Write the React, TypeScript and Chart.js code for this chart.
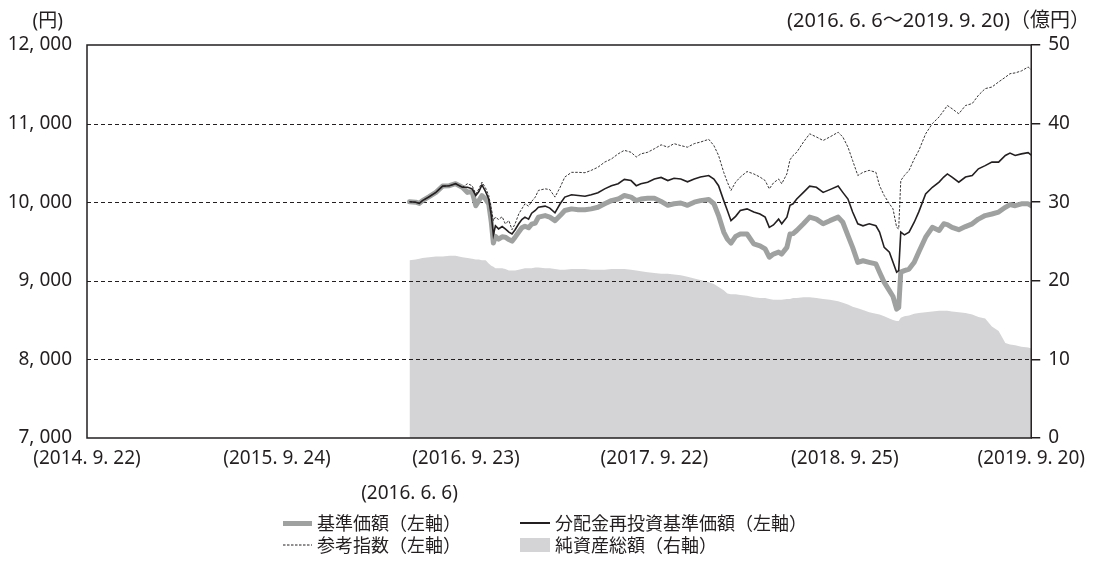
import React, { useEffect, useRef } from 'react';
import { Chart, registerables } from 'chart.js';

Chart.register(...registerables);

// Days counted from 2014.9.22 (first x tick)
const days = [
  623, 635, 642, 648, 661, 674, 687, 700, 712, 725,
  735, 744, 751, 757, 763, 770, 776, 781, 785, 789,
  795, 802, 808, 815, 821, 827, 834, 840, 846, 853,
  859, 866, 872, 885, 894, 904, 914, 923, 936, 949,
  962, 974, 987, 1000, 1013, 1026, 1038, 1051, 1061, 1070,
  1083, 1096, 1109, 1122, 1134, 1147, 1160, 1173, 1185, 1201,
  1211, 1220, 1230, 1237, 1244, 1253, 1262, 1275, 1288, 1300,
  1310, 1318, 1326, 1336, 1342, 1352, 1358, 1364, 1371, 1384,
  1396, 1409, 1422, 1435, 1451, 1460, 1470, 1479, 1489, 1499,
  1511, 1524, 1531, 1540, 1550, 1557, 1564, 1568, 1572, 1579,
  1588, 1598, 1607, 1620, 1633, 1646, 1655, 1662, 1671, 1684,
  1697, 1710, 1722, 1735, 1748, 1761, 1774, 1783, 1793, 1805,
  1818, 1824,
];

// 基準価額 (円)
const basePrice = [
  10005, 10000, 9985, 10020, 10070, 10125, 10205, 10210, 10235, 10190,
  10125, 10135, 9955, 10020, 10085, 10040, 9980, 9745, 9480, 9565,
  9530, 9560, 9555, 9525, 9505, 9555, 9620, 9675, 9695, 9675,
  9720, 9735, 9810, 9830, 9810, 9765, 9830, 9895, 9915, 9905,
  9905, 9915, 9935, 9980, 10020, 10040, 10085, 10065, 10020, 10040,
  10050, 10050, 10010, 9960, 9980, 9990, 9960, 10000, 10020, 10035,
  9980, 9830, 9620, 9530, 9480, 9565, 9595, 9595, 9470, 9445,
  9405, 9300, 9340, 9365, 9340, 9425, 9595, 9600, 9640, 9725,
  9810, 9785, 9725, 9765, 9810, 9745, 9575, 9425, 9235, 9255,
  9235, 9215, 9110, 8980, 8875, 8800, 8640, 8660, 9110, 9130,
  9150, 9235, 9370, 9555, 9680, 9640, 9725, 9715, 9680, 9650,
  9690, 9725, 9785, 9830, 9850, 9875, 9935, 9970, 9955, 9980,
  9980, 9955,
];

// 分配金再投資基準価額 (円)
const reinvestPrice = [
  10005, 10000, 9985, 10020, 10070, 10125, 10205, 10210, 10235, 10190,
  10190, 10170, 10085, 10135, 10220, 10135, 10040, 9830, 9585, 9700,
  9660, 9690, 9660, 9620, 9595, 9650, 9725, 9780, 9810, 9785,
  9860, 9895, 9935, 9950, 9925, 9865, 9980, 10065, 10095, 10085,
  10075, 10095, 10120, 10170, 10210, 10235, 10290, 10275, 10210, 10235,
  10255, 10295, 10315, 10275, 10305, 10295, 10260, 10295, 10320, 10340,
  10295, 10210, 10020, 9895, 9765, 9820, 9895, 9915, 9875, 9850,
  9810, 9680, 9710, 9785, 9725, 9810, 9960, 9980, 10040, 10125,
  10205, 10190, 10125, 10160, 10205, 10125, 10040, 9875, 9725, 9700,
  9725, 9700, 9620, 9425, 9365, 9235, 9110, 9130, 9620, 9585,
  9620, 9745, 9880, 10105, 10190, 10255, 10320, 10360, 10320, 10255,
  10320, 10340, 10425, 10465, 10510, 10510, 10595, 10625, 10595, 10615,
  10630, 10600,
];

// 参考指数 (円)
const refIndex = [
  10005, 10000, 9985, 10020, 10070, 10125, 10205, 10210, 10235, 10190,
  10235, 10210, 10105, 10170, 10255, 10180, 10085, 9915, 9765, 9810,
  9780, 9815, 9725, 9765, 9650, 9725, 9850, 9915, 9980, 9950,
  10010, 10065, 10150, 10170, 10160, 10065, 10190, 10320, 10380, 10380,
  10375, 10405, 10445, 10510, 10550, 10615, 10660, 10635, 10575, 10615,
  10635, 10680, 10730, 10700, 10745, 10720, 10700, 10745, 10765, 10800,
  10720, 10595, 10380, 10255, 10150, 10255, 10320, 10390, 10360, 10320,
  10275, 10170, 10245, 10295, 10235, 10360, 10540, 10595, 10635, 10765,
  10870, 10830, 10785, 10830, 10890, 10830, 10700, 10530, 10340, 10380,
  10405, 10380, 10210, 10085, 9980, 9915, 9680, 9660, 10275, 10340,
  10405, 10550, 10660, 10870, 11000, 11085, 11165, 11230, 11190, 11125,
  11230, 11255, 11360, 11445, 11465, 11530, 11590, 11635, 11645, 11670,
  11720, 11685,
];

// 純資産総額 (億円)
const netAssets = [
  22.6, 22.7, 22.8, 22.9, 23.0, 23.1, 23.1, 23.2, 23.2, 23.0,
  22.9, 22.8, 22.7, 22.7, 22.6, 22.6, 22.2, 21.9, 21.8, 21.6,
  21.6, 21.6, 21.5, 21.3, 21.3, 21.3, 21.4, 21.5, 21.6, 21.6,
  21.6, 21.7, 21.7, 21.6, 21.6, 21.5, 21.4, 21.4, 21.5, 21.5,
  21.5, 21.4, 21.4, 21.4, 21.5, 21.5, 21.5, 21.4, 21.3, 21.2,
  21.1, 21.0, 20.9, 20.9, 20.8, 20.7, 20.5, 20.3, 20.1, 19.8,
  19.6, 19.2, 18.8, 18.4, 18.3, 18.3, 18.2, 18.1, 17.9, 17.8,
  17.8, 17.7, 17.6, 17.6, 17.6, 17.7, 17.7, 17.8, 17.8, 17.9,
  17.9, 17.8, 17.7, 17.6, 17.4, 17.2, 17.0, 16.7, 16.5, 16.3,
  16.0, 15.8, 15.7, 15.5, 15.2, 15.0, 14.9, 14.9, 15.3, 15.5,
  15.6, 15.8, 15.9, 16.0, 16.1, 16.2, 16.2, 16.2, 16.1, 16.0,
  15.9, 15.7, 15.4, 15.2, 14.2, 13.6, 12.1, 11.9, 11.8, 11.6,
  11.5, 11.4,
];

const xTickDays = [0, 367, 732, 1096, 1464, 1824];
const xTickLabels = ['(2014. 9. 22)', '(2015. 9. 24)', '(2016. 9. 23)', '(2017. 9. 22)', '(2018. 9. 25)', '(2019. 9. 20)'];
const startDay = 623;
const startLabel = '(2016. 6. 6)';
const leftTicks = [7000, 8000, 9000, 10000, 11000, 12000];
const rightTicks = [0, 10, 20, 30, 40, 50];

const seriesNames = ['基準価額（左軸）', '分配金再投資基準価額（左軸）', '参考指数（左軸）', '純資産総額（右軸）'];
const leftUnit = '(円)';
const rightUnit = '(2016. 6. 6～2019. 9. 20)（億円）';

const INK = '#231f20';
const GRAY_LINE = '#9fa0a0';
const AREA = '#d4d4d6';
const FONT = '"Noto Sans", "Noto Sans CJK JP", sans-serif';

const fmtYen = (v: number) => String(v).replace(/\B(?=(\d{3})+(?!\d))/g, ', ');
const pts = (vals: number[]) => days.map((d, i) => ({ x: d, y: vals[i] }));

const overlayPlugin = {
  id: 'overlay',
  afterDatasetDraw(chart: any, args: any) {
    if (args.index !== 3) return;
    const { ctx, chartArea } = chart;
    const y = chart.scales.y;
    ctx.save();
    ctx.strokeStyle = INK;
    ctx.lineWidth = 1;
    ctx.setLineDash([4, 3]);
    leftTicks.forEach((v) => {
      if (v === leftTicks[0] || v === leftTicks[leftTicks.length - 1]) return;
      const py = Math.round(y.getPixelForValue(v)) + 0.5;
      ctx.beginPath();
      ctx.moveTo(chartArea.left, py);
      ctx.lineTo(chartArea.right, py);
      ctx.stroke();
    });
    ctx.restore();
  },
  afterDraw(chart: any) {
    const { ctx, chartArea } = chart;
    ctx.save();
    ctx.strokeStyle = INK;
    ctx.lineWidth = 1.5;
    ctx.setLineDash([]);
    ctx.strokeRect(chartArea.left, chartArea.top, chartArea.right - chartArea.left, chartArea.bottom - chartArea.top);
    const x = chart.scales.x;
    ctx.fillStyle = INK;
    ctx.font = `19px ${FONT}`;
    ctx.textAlign = 'center';
    ctx.textBaseline = 'middle';
    ctx.fillText(startLabel, x.getPixelForValue(startDay), chartArea.bottom + 56);
    ctx.restore();
  },
};

function LegendText({ left, top, children }: { left: number; top: number; children: React.ReactNode }) {
  return (
    <div style={{ position: 'absolute', left, top: top - 12, height: 24, lineHeight: '24px', fontSize: 18, fontFamily: FONT, color: INK, whiteSpace: 'nowrap' }}>
      {children}
    </div>
  );
}

export default function App() {
  const canvasRef = useRef<HTMLCanvasElement | null>(null);

  useEffect(() => {
    if (!canvasRef.current) return;
    const chart = new Chart(canvasRef.current, {
      type: 'line',
      data: {
        datasets: [
          { label: seriesNames[0], data: pts(basePrice), yAxisID: 'y', borderColor: GRAY_LINE, borderWidth: 5, pointRadius: 0, tension: 0, fill: false, order: 3, borderJoinStyle: 'round', borderCapStyle: 'round' },
          { label: seriesNames[1], data: pts(reinvestPrice), yAxisID: 'y', borderColor: INK, borderWidth: 1.6, pointRadius: 0, tension: 0, fill: false, order: 1 },
          { label: seriesNames[2], data: pts(refIndex), yAxisID: 'y', borderColor: INK, borderWidth: 0.9, borderDash: [2.5, 1.5], pointRadius: 0, tension: 0, fill: false, order: 2 },
          { label: seriesNames[3], data: pts(netAssets), yAxisID: 'y1', borderColor: AREA, backgroundColor: AREA, borderWidth: 0, pointRadius: 0, tension: 0, fill: 'origin', order: 4 },
        ],
      },
      options: {
        animation: false,
        responsive: true,
        maintainAspectRatio: false,
        layout: { padding: { top: 45, left: 0, right: 0, bottom: 0 } },
        plugins: { legend: { display: false }, tooltip: { enabled: false } },
        scales: {
          x: {
            type: 'linear',
            min: 0,
            max: 1824,
            afterBuildTicks: (s: any) => { s.ticks = xTickDays.map((v) => ({ value: v })); },
            afterFit: (s: any) => { s.height = 129; },
            grid: { display: false, drawTicks: false },
            border: { display: false },
            ticks: {
              autoSkip: false,
              maxRotation: 0,
              padding: 9,
              color: INK,
              font: { size: 19, family: FONT },
              callback: (v: any) => { const i = xTickDays.indexOf(Number(v)); return i >= 0 ? xTickLabels[i] : ''; },
            },
          },
          y: {
            position: 'left',
            min: 7000,
            max: 12000,
            afterBuildTicks: (s: any) => { s.ticks = leftTicks.map((v) => ({ value: v })); },
            afterFit: (s: any) => { s.width = 87; },
            grid: { display: false, drawTicks: false },
            border: { display: false },
            ticks: { padding: 15, color: INK, font: { size: 19, family: FONT }, callback: (v: any) => fmtYen(Number(v)) },
          },
          y1: {
            position: 'right',
            min: 0,
            max: 50,
            afterBuildTicks: (s: any) => { s.ticks = rightTicks.map((v) => ({ value: v })); },
            afterFit: (s: any) => { s.width = 56; },
            grid: { display: true, drawOnChartArea: false, drawTicks: true, tickLength: 9, color: INK, lineWidth: 1.5 },
            border: { display: false },
            ticks: { padding: 8, color: INK, font: { size: 19, family: FONT } },
          },
        },
      },
      plugins: [overlayPlugin],
    } as any);
    return () => chart.destroy();
  }, []);

  return (
    <div style={{ position: 'absolute', left: 0, top: 0, width: 1094, height: 567, background: '#fff', overflow: 'hidden' }}>
      <canvas ref={canvasRef} style={{ position: 'absolute', left: 0, top: 0 }} />
      <div style={{ position: 'absolute', right: 1094 - 63, top: 8, fontSize: 19, lineHeight: '24px', fontFamily: FONT, color: INK, whiteSpace: 'nowrap' }}>{leftUnit}</div>
      <div style={{ position: 'absolute', right: 4, top: 8, fontSize: 20, lineHeight: '24px', fontFamily: FONT, color: INK, whiteSpace: 'nowrap' }}>{rightUnit}</div>

      <div style={{ position: 'absolute', left: 283, top: 521, width: 29, height: 5, background: GRAY_LINE }} />
      <LegendText left={317} top={523}>{seriesNames[0]}</LegendText>
      <div style={{ position: 'absolute', left: 520, top: 522, width: 30, height: 1.6, background: INK }} />
      <LegendText left={555} top={523}>{seriesNames[1]}</LegendText>
      <svg style={{ position: 'absolute', left: 283, top: 544 }} width={29} height={2}>
        <line x1={0} y1={1} x2={29} y2={1} stroke={INK} strokeWidth={1} strokeDasharray="2.5 1.5" />
      </svg>
      <LegendText left={317} top={545}>{seriesNames[2]}</LegendText>
      <div style={{ position: 'absolute', left: 520, top: 538, width: 30, height: 14, background: AREA }} />
      <LegendText left={555} top={545}>{seriesNames[3]}</LegendText>
    </div>
  );
}
